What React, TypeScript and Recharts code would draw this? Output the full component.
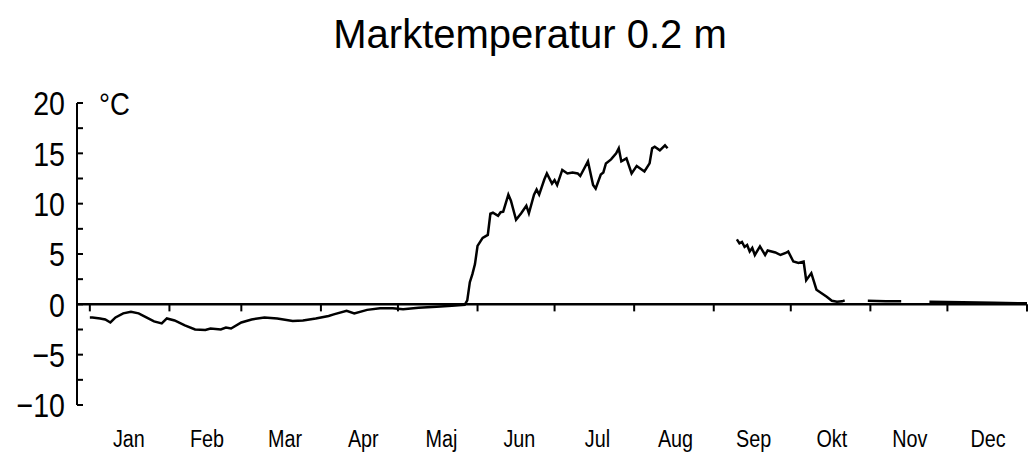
import React from 'react';
import { LineChart, Line, XAxis, YAxis, ReferenceLine } from 'recharts';

// day of year (0 = 1 Jan) and soil temperature at 0.2 m, null = no data
const days = [
  0, 1, 4, 6, 8, 10, 13, 16, 19, 22, 25, 28, 30, 33, 37, 41, 45, 47, 51, 53, 55, 59, 63, 68, 73, 79, 83, 88,
  93, 95, 100, 103, 108, 113, 118, 122, 128, 135, 141, 146, 147, 148, 149, 150, 151, 152, 153, 155, 156, 157,
  159, 160, 161, 163, 164, 166, 168, 170, 171, 173, 174, 175, 177, 178, 180, 181, 182, 184, 186, 188, 190, 191,
  194, 196, 197, 199, 200, 201, 203, 205, 206, 207, 209, 211, 213, 216, 218, 219, 220, 222, 224, 225,
  230,
  252, 253, 254, 255, 256, 257, 258, 259, 261, 263, 264, 267, 269, 271, 272, 274, 276, 278, 279, 281, 283, 285,
  287, 289, 291, 293, 294,
  298,
  303, 310, 316,
  320,
  327, 340, 352, 365,
];
const temps: (number | null)[] = [
  -1.3, -1.3, -1.4, -1.5, -1.8, -1.3, -0.9, -0.75, -0.9, -1.3, -1.7, -1.9, -1.4, -1.6, -2.1, -2.5, -2.55, -2.4,
  -2.5, -2.3, -2.4, -1.8, -1.5, -1.3, -1.4, -1.65, -1.6, -1.4,
  -1.15, -1.0, -0.65, -0.9, -0.55, -0.4, -0.4, -0.5, -0.35, -0.25, -0.15, -0.05, 0.4, 2.2, 3.0, 4.0, 5.8, 6.2,
  6.6, 6.9, 9.0, 9.1,
  8.8, 9.15, 9.2, 10.9, 10.3, 8.4, 9.05, 9.8, 9.05, 10.9, 11.4, 10.9, 12.4, 13.0, 12.0, 12.35, 11.85, 13.35,
  13.0, 13.1, 13.0, 12.75,
  14.2, 11.85, 11.5, 12.9, 13.1, 14.0, 14.4, 15.0, 15.5, 14.2, 14.5, 13.0, 13.75, 13.2, 14.0, 15.5, 15.65,
  15.3, 15.8, 15.5,
  null,
  6.45, 6.05, 6.2, 5.7, 5.9, 5.25, 5.6, 4.9, 5.75, 4.9, 5.35, 5.15, 4.9, 5.1, 5.25, 4.25, 4.1, 4.25, 2.4, 3.1,
  1.45, 1.1,
  0.75, 0.35, 0.25, 0.3, 0.4,
  null,
  0.35, 0.3, 0.3,
  null,
  0.25, 0.2, 0.15, 0.1,
];

const months = ['Jan', 'Feb', 'Mar', 'Apr', 'Maj', 'Jun', 'Jul', 'Aug', 'Sep', 'Okt', 'Nov', 'Dec'];
const monthStarts = [0, 31, 59, 90, 120, 151, 181, 212, 243, 273, 304, 334, 365];
const monthMids = [15.2, 45.6, 76, 106.5, 136.9, 167.3, 197.7, 228.1, 258.5, 289, 319.4, 349.8];
const yTicks = [-10, -7.5, -5, -2.5, 0, 2.5, 5, 7.5, 10, 12.5, 15, 17.5, 20];
const rightTicks = [-10, -5, 5, 10, 15, 20];

const data = days.map((d, i) => ({ day: d, temp: temps[i] }));

const FONT = '"Liberation Sans", Arial, sans-serif';
const TICK_GAP = 12;

function YTick(props: any) {
  const { x, y, payload } = props;
  const v = payload.value;
  const axisX = x + TICK_GAP;
  const major = v % 5 === 0;
  return (
    <g>
      <line x1={axisX} x2={axisX + 6} y1={y} y2={y} stroke="#000" strokeWidth={2} />
      {major && (
        <text
          transform={`translate(${x},${y}) scale(0.84,1)`}
          dy="0.36em"
          textAnchor="end"
          fontSize={34}
          fontFamily={FONT}
          fill="#000"
        >
          {v < 0 ? `\u2212${Math.abs(v)}` : v}
        </text>
      )}
    </g>
  );
}

function MonthTick(props: any) {
  const { x, y, payload } = props;
  const label = months[monthMids.indexOf(payload.value)] ?? '';
  return (
    <text
      transform={`translate(${x},${y}) scale(0.86,1)`}
      dy="0.71em"
      textAnchor="middle"
      fontSize={23}
      fontFamily={FONT}
      fill="#000"
    >
      {label}
    </text>
  );
}

export default function App() {
  return (
    <div style={{ position: 'absolute', left: 0, top: 0, width: 1032, height: 468, background: '#fff' }}>
      <svg width={1032} height={60} style={{ position: 'absolute', left: 0, top: 0 }}>
        <text x={530} y={48} textAnchor="middle" fontSize={40} fontFamily={FONT} fill="#000">
          Marktemperatur 0.2 m
        </text>
      </svg>
      <LineChart width={1032} height={468} data={data} margin={{ top: 103, right: 0, bottom: 33, left: 17 }}>
        <XAxis
          type="number"
          dataKey="day"
          domain={[-5, 365]}
          ticks={monthMids}
          axisLine={false}
          tickLine={false}
          tickSize={0}
          tickMargin={26}
          height={30}
          tick={<MonthTick />}
        />
        <YAxis
          domain={[-10, 20]}
          ticks={yTicks}
          width={60}
          tickSize={0}
          tickMargin={TICK_GAP}
          tickLine={false}
          axisLine={{ stroke: '#000', strokeWidth: 2 }}
          tick={<YTick />}
          interval={0}
          label={{
            content: (p: any) => (
              <text
                transform={`translate(99,${p.viewBox.y}) scale(0.86,1)`}
                dy="0.36em"
                fontSize={32}
                fontFamily={FONT}
                fill="#000"
              >
                °C
              </text>
            ),
          }}
        />
        <YAxis
          yAxisId="r"
          orientation="right"
          domain={[-10, 20]}
          ticks={rightTicks}
          width={5}
          tickSize={3}
          axisLine={false}
          tickLine={{ stroke: '#555', strokeWidth: 1.5 }}
          tickFormatter={() => ''}
        />
        <ReferenceLine y={0} stroke="#000" strokeWidth={2.5} />
        {monthStarts.map((d) => (
          <ReferenceLine
            key={d}
            segment={[{ x: d, y: 0 }, { x: d, y: -0.7 }]}
            stroke="#000"
            strokeWidth={2}
          />
        ))}
        <Line
          type="linear"
          dataKey="temp"
          stroke="#000"
          strokeWidth={2.5}
          dot={false}
          connectNulls={false}
          isAnimationActive={false}
        />
      </LineChart>
    </div>
  );
}
